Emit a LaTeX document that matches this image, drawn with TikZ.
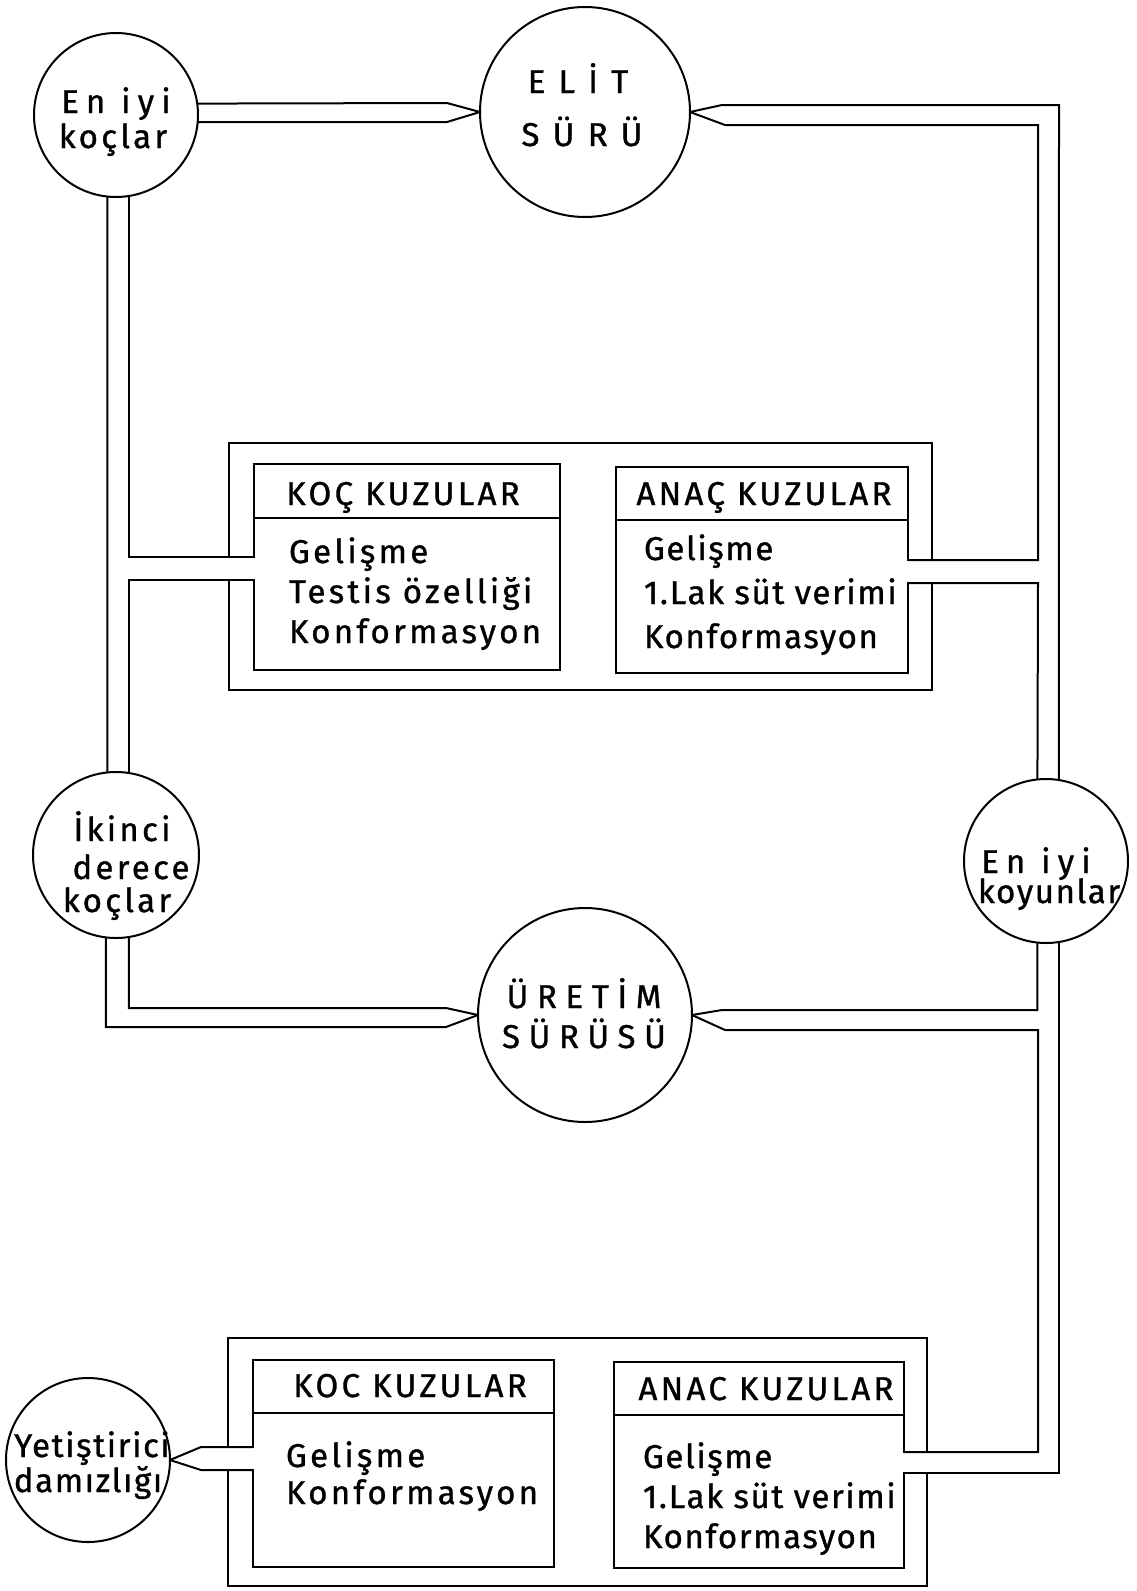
\documentclass[tikz,border=0pt]{standalone}
\usepackage{fontspec}
\setmainfont{Fira Sans}
\newfontfamily\lettr[LetterSpace=10,FakeBold=1]{Fira Sans}
\newfontfamily\lettrn[LetterSpace=5,FakeBold=1]{Fira Sans}
\newfontfamily\lettrm[LetterSpace=22,FakeBold=1]{Fira Sans}
\newfontfamily\lettrx[LetterSpace=26,FakeBold=1]{Fira Sans}
\newfontfamily\lettrw[LetterSpace=40,FakeBold=1]{Fira Sans}

\tikzset{
  circ/.style={draw, circle, inner sep=0pt, outer sep=0pt},
  box/.style={draw, rectangle, inner sep=0pt, outer sep=0pt},
  txt/.style={font=\lettr\fontsize{33}{38}\selectfont, inner sep=0pt, anchor=base},
  ntxt/.style={txt, font=\lettrn\fontsize{33}{38}\selectfont},
  mtxt/.style={txt, font=\lettrm\fontsize{33}{38}\selectfont},
  xtxt/.style={txt, font=\lettrx\fontsize{33}{38}\selectfont},
  wtxt/.style={txt, font=\lettrw\fontsize{33}{38}\selectfont},
  btxt/.style={txt, anchor=base west},
  chan/.style={fill=white},
}

\begin{document}
\begin{tikzpicture}[x=1pt, y=-1pt, line width=2pt]
\useasboundingbox (0,0) rectangle (1137,1591);

% circles
\node[circ, minimum size=164pt] (koclar) at (116,115) {};
\node[circ, minimum size=210pt] (elit) at (585,112) {};
\node[circ, minimum size=166pt] (ikinci) at (116,855) {};
\node[circ, minimum size=164pt] (koyun) at (1046,861) {};
\node[circ, minimum size=214pt] (uretim) at (585,1015) {};
\node[circ, minimum size=164pt] (yetis) at (88,1460) {};

% boxes
\node[box, minimum width=703pt, minimum height=247pt] (dis1) at (580.5,566.5) {};
\node[box, minimum width=306pt, minimum height=206pt] (koc1) at (407,567) {};
\node[box, minimum width=292pt, minimum height=206pt] (anac1) at (762,570) {};
\node[box, minimum width=699pt, minimum height=248pt] (dis2) at (577.5,1462) {};
\node[box, minimum width=301pt, minimum height=207pt] (koc2) at (403.5,1463.5) {};
\node[box, minimum width=290pt, minimum height=206pt] (anac2) at (759,1465) {};
\draw (koc1.west |- 0,518) -- (koc1.east |- 0,518);
\draw (anac1.west |- 0,520) -- (anac1.east |- 0,520);
\draw (koc2.west |- 0,1413) -- (koc2.east |- 0,1413);
\draw (anac2.west |- 0,1415) -- (anac2.east |- 0,1415);

% openings in the walls
\fill[chan] (128,558) rectangle (256,579);
\fill[chan] (906,561) rectangle (1037,582);
\fill[chan] (226,1448) rectangle (255,1469);
\fill[chan] (902,1453) rectangle (1037,1472);

% pipes
\draw (koclar.8) -- (447,103) -- (elit.west);
\draw (koclar.-5) -- (447,122) -- (elit.west);
\draw (elit.east) -- (722,105) -- (1059,105) -- (koyun.81);
\draw (elit.east) -- (725,125) -- (1038,125) -- (1038,560) -- (anac1.east |- 0,560);
\draw (anac1.east |- 0,583) -- (1038,583) -- (koyun.96);
\draw (koclar.-96) -- (ikinci.96);
\draw (koclar.-81) |- (koc1.west |- 0,557);
\draw (koc1.west |- 0,580) -| (ikinci.81);
\draw (ikinci.-97) |- (446,1027) -- (uretim.west);
\draw (ikinci.-81) |- (446,1008) -- (uretim.west);
\draw (koyun.-96) |- (722,1010) -- (uretim.east);
\draw (uretim.east) -- (725,1030) -- (1038,1030) -- (1038,1452) -- (anac2.east |- 0,1452);
\draw (koyun.-81) |- (anac2.east |- 0,1473);
\draw (koc2.west |- 0,1447) -- (201,1447) -- (yetis.east);
\draw (koc2.west |- 0,1470) -- (201,1470) -- (yetis.east);

% circle texts
\node[mtxt] (koclarA) at (116,113) {En iyi};
\node[txt] (koclarB) at (113,148) {koçlar};
\node[wtxt] (elitA) at (578,93) {ELİT};
\node[wtxt] (elitB) at (582,146) {SÜRÜ};
\node[txt] (ikinciA) at (122,841) {İkinci};
\node[txt] (ikinciB) at (131,879) {derece};
\node[txt] (ikinciC) at (117,912) {koçlar};
\node[mtxt] (koyunA) at (1036,873) {En iyi};
\node[ntxt] (koyunB) at (1049,903) {koyunlar};
\node[xtxt] (uretimA) at (584,1008) {ÜRETİM};
\node[xtxt] (uretimB) at (584,1048) {SÜRÜSÜ};
\node[ntxt] (yetisA) at (92,1457) {Yetiştirici};
\node[ntxt] (yetisB) at (88,1492) {damızlığı};

% box texts
\node[txt] (koc1H) at (403,505) {KOÇ KUZULAR};
\node[txt] (anac1H) at (764,505) {ANAÇ KUZULAR};
\node[txt] (koc2H) at (410,1397) {KOC KUZULAR};
\node[txt] (anac2H) at (766,1400) {ANAC KUZULAR};
\foreach \t [count=\i] in {Gelişme, Testis özelliği, Konformasyon}
  \node[btxt] (koc1L\i) at (288,{523+40*\i}) {\t};
\foreach \t [count=\i] in {Gelişme, {1.\hspace{2pt}Lak süt verimi}, Konformasyon}
  \node[btxt, font=\lettrn\fontsize{33}{38}\selectfont] (anac1L\i) at (643,{516+44*\i}) {\t};
\foreach \t [count=\i] in {Gelişme, Konformasyon}
  \node[btxt] (koc2L\i) at (285,{1430+37*\i}) {\t};
\foreach \t [count=\i] in {Gelişme, {1.\hspace{2pt}Lak süt verimi}, Konformasyon}
  \node[btxt, font=\lettrn\fontsize{33}{38}\selectfont] (anac2L\i) at (642,{1428+40*\i}) {\t};
\end{tikzpicture}
\end{document}
